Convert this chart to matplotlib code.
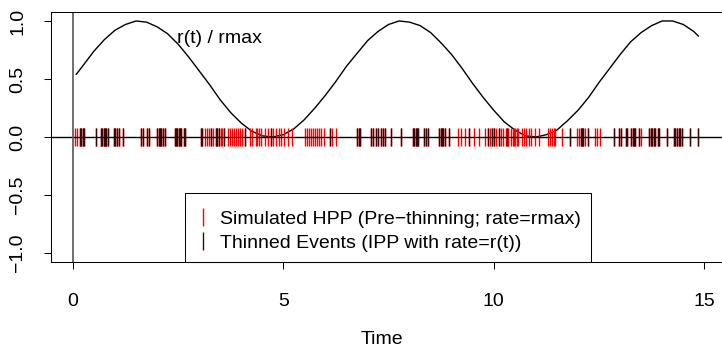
import matplotlib
matplotlib.use("Agg")
import matplotlib.pyplot as plt
from matplotlib.lines import Line2D

plt.rcParams['font.family'] = ['Liberation Sans', 'DejaVu Sans']

# event times of the homogeneous process (before thinning)
hpp_times = [0.06, 0.10, 0.17, 0.20, 0.24, 0.27, 0.55, 0.67, 0.70, 0.73, 0.76, 0.79, 0.84,
             0.98, 1.01, 1.05, 1.09, 1.19, 1.62, 1.66, 1.77, 1.82, 2.01, 2.04, 2.07, 2.10,
             2.14, 2.19, 2.42, 2.45, 2.48, 2.52, 2.55, 2.58, 2.63, 2.66, 3.04, 3.07, 3.14,
             3.18, 3.23, 3.28, 3.34, 3.40, 3.43, 3.47, 3.52, 3.55, 3.59, 3.69, 3.74, 3.78,
             3.83, 3.88, 3.93, 3.97, 4.02, 4.10, 4.21, 4.26, 4.34, 4.38, 4.43, 4.48, 4.57,
             4.64, 4.70, 4.76, 4.83, 4.89, 4.95, 5.02, 5.11, 5.21, 5.51, 5.56, 5.61, 5.65,
             5.70, 5.75, 5.80, 5.84, 5.90, 5.97, 6.10, 6.16, 6.25, 6.76, 6.79, 6.82, 7.09,
             7.13, 7.19, 7.25, 7.32, 7.36, 7.41, 7.55, 7.79, 8.08, 8.11, 8.14, 8.17, 8.20,
             8.33, 8.38, 8.44, 8.71, 8.74, 8.77, 8.80, 8.85, 8.93, 9.15, 9.23, 9.31, 9.41,
             9.52, 9.64, 9.79, 9.86, 9.91, 9.96, 10.01, 10.05, 10.12, 10.18, 10.23, 10.28,
             10.31, 10.34, 10.42, 10.45, 10.48, 10.51, 10.55, 10.58, 10.67, 10.72, 10.77,
             10.83, 10.89, 10.97, 11.08, 11.29, 11.34, 11.38, 11.42, 11.46, 11.61, 11.81,
             11.97, 12.02, 12.07, 12.10, 12.13, 12.17, 12.24, 12.41, 12.46, 12.53, 12.86,
             12.98, 13.03, 13.13, 13.16, 13.27, 13.30, 13.33, 13.36, 13.44, 13.49, 13.68,
             13.73, 13.76, 13.81, 13.84, 13.89, 13.93, 14.11, 14.27, 14.31, 14.35, 14.39,
             14.43, 14.47, 14.66, 14.85]

# events kept after thinning
thinned_times = [0.17, 0.20, 0.24, 0.27, 0.55, 0.67, 0.70, 0.73, 0.76, 0.79, 0.84, 0.98, 1.01,
                 1.05, 1.09, 1.19, 1.62, 1.66, 1.77, 1.82, 2.01, 2.04, 2.07, 2.10, 2.14, 2.19,
                 2.42, 2.45, 2.48, 2.52, 2.55, 2.58, 2.63, 2.66, 3.04, 3.07, 3.28, 3.40, 3.43,
                 3.47, 3.59, 4.10, 4.70, 6.10, 6.76, 6.79, 6.82, 7.09, 7.13, 7.19, 7.25, 7.32,
                 7.36, 7.41, 7.55, 7.79, 8.08, 8.11, 8.14, 8.17, 8.20, 8.33, 8.38, 8.44, 8.71,
                 8.74, 8.77, 8.80, 8.85, 8.93, 9.41, 9.86, 9.96, 10.01, 10.12, 10.31, 11.81,
                 12.07, 12.10, 12.13, 12.24, 12.86, 12.98, 13.03, 13.13, 13.16, 13.27, 13.30,
                 13.33, 13.36, 13.44, 13.68, 13.73, 13.76, 13.81, 13.84, 13.89, 13.93, 14.11,
                 14.27, 14.31, 14.35, 14.39, 14.43, 14.47, 14.66, 14.85]

# r(t) / rmax curve
curve_t = [0.08, 0.25, 0.5, 0.75, 1.0, 1.25, 1.5, 1.75, 2.0, 2.25, 2.5, 2.75, 3.0, 3.25,
           3.5, 3.75, 4.0, 4.25, 4.5, 4.75, 5.0, 5.25, 5.5, 5.75, 6.0, 6.25, 6.5, 6.75,
           7.0, 7.25, 7.5, 7.75, 8.0, 8.25, 8.5, 8.75, 9.0, 9.25, 9.5, 9.75, 10.0, 10.25,
           10.5, 10.75, 11.0, 11.25, 11.5, 11.75, 12.0, 12.25, 12.5, 12.75, 13.0, 13.25,
           13.5, 13.75, 14.0, 14.25, 14.5, 14.75, 14.86]
curve_y = [0.54, 0.62, 0.74, 0.84, 0.92, 0.97, 1.00, 0.99, 0.95, 0.89, 0.80, 0.69, 0.57, 0.45,
           0.32, 0.21, 0.12, 0.05, 0.01, 0.00, 0.02, 0.07, 0.15, 0.25, 0.36, 0.48, 0.61, 0.72,
           0.83, 0.91, 0.97, 1.00, 0.99, 0.96, 0.90, 0.81, 0.71, 0.59, 0.46, 0.34, 0.23, 0.13,
           0.06, 0.01, 0.00, 0.02, 0.06, 0.14, 0.23, 0.34, 0.47, 0.59, 0.71, 0.82, 0.90, 0.96,
           1.00, 1.00, 0.97, 0.91, 0.87]

x_ticks = [0, 5, 10, 15]
y_ticks = [-1.0, -0.5, 0.0, 0.5, 1.0]
y_labels = ['\u22121.0', '\u22120.5', '0.0', '0.5', '1.0']

fs = 14
fig = plt.figure(figsize=(7.22, 3.53), dpi=100)
ax = fig.add_axes([51 / 722, 1 - 262.3 / 353, (727.4 - 51) / 722, (262.3 - 11.7) / 353])

ax.plot(curve_t, curve_y, color='black', lw=1.0)
ax.vlines(hpp_times, -0.08, 0.08, color='#ff0000', lw=1.0)
ax.vlines(thinned_times, -0.08, 0.08, color='#3a0808', lw=1.0)
ax.axhline(0, color='black', lw=1.0)
ax.axvline(0, color='#555555', lw=1.2)

ax.text(3.47, 0.85, 'r(t) / rmax', fontsize=fs, ha='center', va='center')

ax.set_xlim(-0.52, 15.55)
ax.set_ylim(-1.08, 1.08)
ax.set_xticks(x_ticks)
ax.set_xticklabels([str(v) for v in x_ticks])
ax.set_yticks(y_ticks)
ax.set_yticklabels(y_labels, rotation=90, va='center')
ax.tick_params(direction='out', length=5, width=0.75, labelsize=fs)
ax.tick_params(axis='x', pad=17)
ax.tick_params(axis='y', pad=13)
for s in ax.spines.values():
    s.set_linewidth(0.75)

ax.set_xlabel('Time', fontsize=fs)
ax.xaxis.set_label_coords(0.49, -0.31)
ax.xaxis.label.set_va('center')

handles = [Line2D([], [], color='#ff0000', marker='|', linestyle='None', markersize=13, mew=1),
           Line2D([], [], color='#3a0808', marker='|', linestyle='None', markersize=13, mew=1)]
labels = ['Simulated HPP (Pre\u2212thinning; rate=rmax)', 'Thinned Events (IPP with rate=r(t))']
# the blank tiny title only adds the extra top padding the reference box has
leg = ax.legend(handles, labels, loc='lower center', bbox_to_anchor=(0.4985, 0), borderaxespad=0,
                fontsize=fs, fancybox=False, framealpha=1, edgecolor='black',
                handlelength=0.8, handletextpad=0.45, borderpad=0.55, labelspacing=0.3,
                title=' ', title_fontsize=0.5)
leg.get_frame().set_linewidth(0.75)

fig.savefig('out.png', dpi=100)
